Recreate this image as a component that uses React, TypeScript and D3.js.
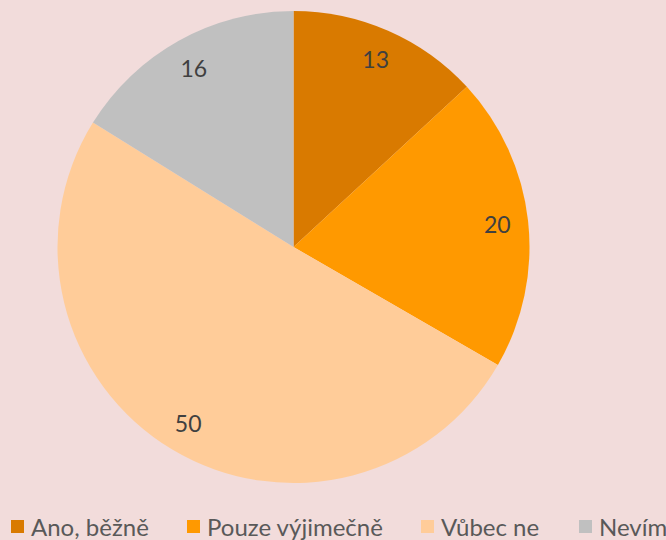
import React from "react";
import * as d3 from "d3";

const categories = ["Ano, běžně", "Pouze výjimečně", "Vůbec ne", "Nevím"];
const values = [13, 20, 50, 16];
const colors = ["#D97A00", "#FF9900", "#FFCC99", "#C0C0C0"];
const legendX = [10, 186, 420, 578];

export default function App() {
  const W = 666, H = 540;
  const cx = 293.5, cy = 247, r = 236;
  const pie = d3.pie<number>().sort(null).value((d) => d)(values);
  const arc = d3.arc<d3.PieArcDatum<number>>().innerRadius(0).outerRadius(r);
  const labelArc = d3.arc<d3.PieArcDatum<number>>().innerRadius(205).outerRadius(205);
  const font = "Lato, 'Open Sans', sans-serif";
  return (
    <svg width={W} height={H} style={{ position: "absolute", left: 0, top: 0, display: "block" }}>
      <rect width={W} height={H} fill="#F2DCDB" />
      <g transform={`translate(${cx},${cy})`}>
        {pie.map((p, i) => (
          <path key={i} d={arc(p) || ""} fill={colors[i]} />
        ))}
        {pie.map((p, i) => {
          const [x, y] = labelArc.centroid(p);
          return (
            <text key={i} x={x} y={y} textAnchor="middle" dominantBaseline="central"
              fontFamily={font} fontSize={23} fill="#404040">{values[i]}</text>
          );
        })}
      </g>
      <g>
        {categories.map((c, i) => (
          <g key={i} transform={`translate(${legendX[i]},0)`}>
            <rect x={1} y={520} width={13} height={13} fill={colors[i]} />
            <text x={21} y={536} fontFamily={font} fontSize={24} fill="#595959">{c}</text>
          </g>
        ))}
      </g>
    </svg>
  );
}
